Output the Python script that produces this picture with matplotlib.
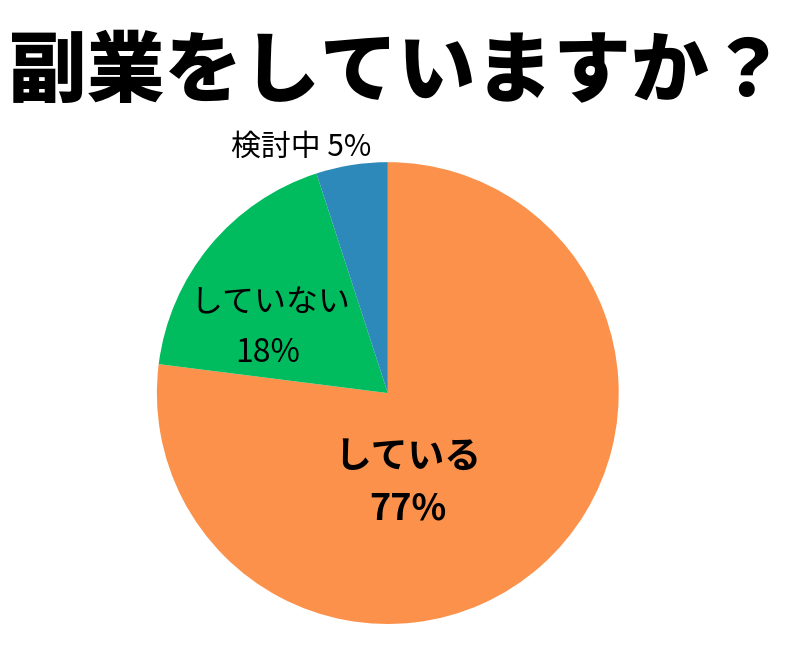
import matplotlib
matplotlib.use('Agg')
import matplotlib.pyplot as plt

plt.rcParams['font.family'] = ['Noto Sans CJK JP', 'DejaVu Sans']

title = '副業をしていますか？'
labels = ['している', 'していない', '検討中']
shares = [77, 18, 5]
colors = ['#FB914B', '#00BC5E', '#2C89B9']

fig = plt.figure(figsize=(8, 6.56), dpi=100)
fig.text(0.497, 0.888, title, ha='center', va='center', fontsize=56, fontweight='heavy')

ax = fig.add_axes([0.196, 0.0488, 0.5775, 0.704])
ax.pie(shares, colors=colors, startangle=90, counterclock=False,
       wedgeprops=dict(linewidth=0))
ax.set_xlim(-1, 1)
ax.set_ylim(-1, 1)
ax.set_aspect('equal')
ax.axis('off')

# label spots, in pie radius units
ax.text(0.085, -0.28, labels[0], ha='center', va='center', fontsize=26.5, fontweight='bold')
ax.text(0.087, -0.50, f'{shares[0]}%', ha='center', va='center', fontsize=26, fontweight='bold')
ax.text(-0.51, 0.39, labels[1], ha='center', va='center', fontsize=23)
ax.text(-0.52, 0.175, f'{shares[1]}%', ha='center', va='center', fontsize=23)
ax.text(-0.375, 1.065, f'{labels[2]} {shares[2]}%', ha='center', va='center', fontsize=21.5,
        clip_on=False)

fig.savefig('out.png', dpi=100)
